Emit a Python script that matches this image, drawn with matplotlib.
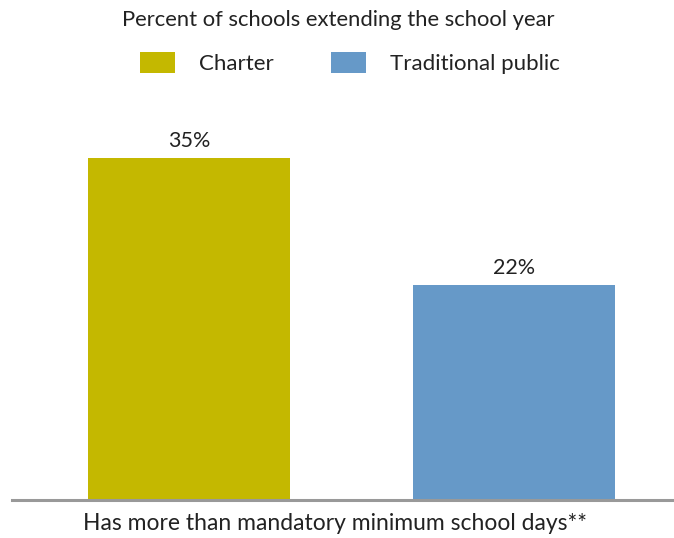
import matplotlib
matplotlib.use("Agg")
import matplotlib.pyplot as plt
from matplotlib.patches import Patch

plt.rcParams["font.family"] = ["Lato", "DejaVu Sans"]

SERIES = ["Charter", "Traditional public"]
VALUES = [35, 22]
COLORS = ["#c4b800", "#6699c8"]
CATEGORY = "Has more than mandatory minimum school days**"
TITLE = "Percent of schools extending the school year"

W, H = 674, 538
fig = plt.figure(figsize=(W / 100, H / 100), dpi=100)

# axes placed in pixel terms: baseline at y=500, left edge at x=12
ax = fig.add_axes([12 / W, (H - 500) / H, 1 - 12 / W, (500 - 109) / H])

positions = list(range(len(VALUES)))
bars = ax.bar(positions, VALUES, width=0.6215, color=COLORS)
ax.set_xlim(-177 / 325, (W - 189) / 325)
ax.set_ylim(0, 40)

for bar, v in zip(bars, VALUES):
    ax.text(bar.get_x() + bar.get_width() / 2, v + 0.7, f"{v}%",
            ha="center", va="bottom", fontsize=15.5, color="#222222")

for side in ["top", "right", "left"]:
    ax.spines[side].set_visible(False)
ax.spines["bottom"].set_color("#999999")
ax.spines["bottom"].set_linewidth(2.2)
ax.set_xticks([])
ax.set_yticks([])

fig.text(338 / W, 1 - 20 / H, TITLE, ha="center", va="center",
         fontsize=15.8, color="#222222")
fig.text(335 / W, 1 - 524 / H, CATEGORY, ha="center", va="center",
         fontsize=16.5, color="#222222")

handles = [Patch(facecolor=c, edgecolor="none") for c in COLORS]
fig.legend(handles, SERIES, loc="center", bbox_to_anchor=(350 / W, 1 - 63 / H),
           ncol=2, frameon=False, fontsize=16, handlelength=1.58, handleheight=1.04,
           handletextpad=1.1, columnspacing=2.55, labelcolor="#222222")

fig.savefig("out.png", dpi=100)
